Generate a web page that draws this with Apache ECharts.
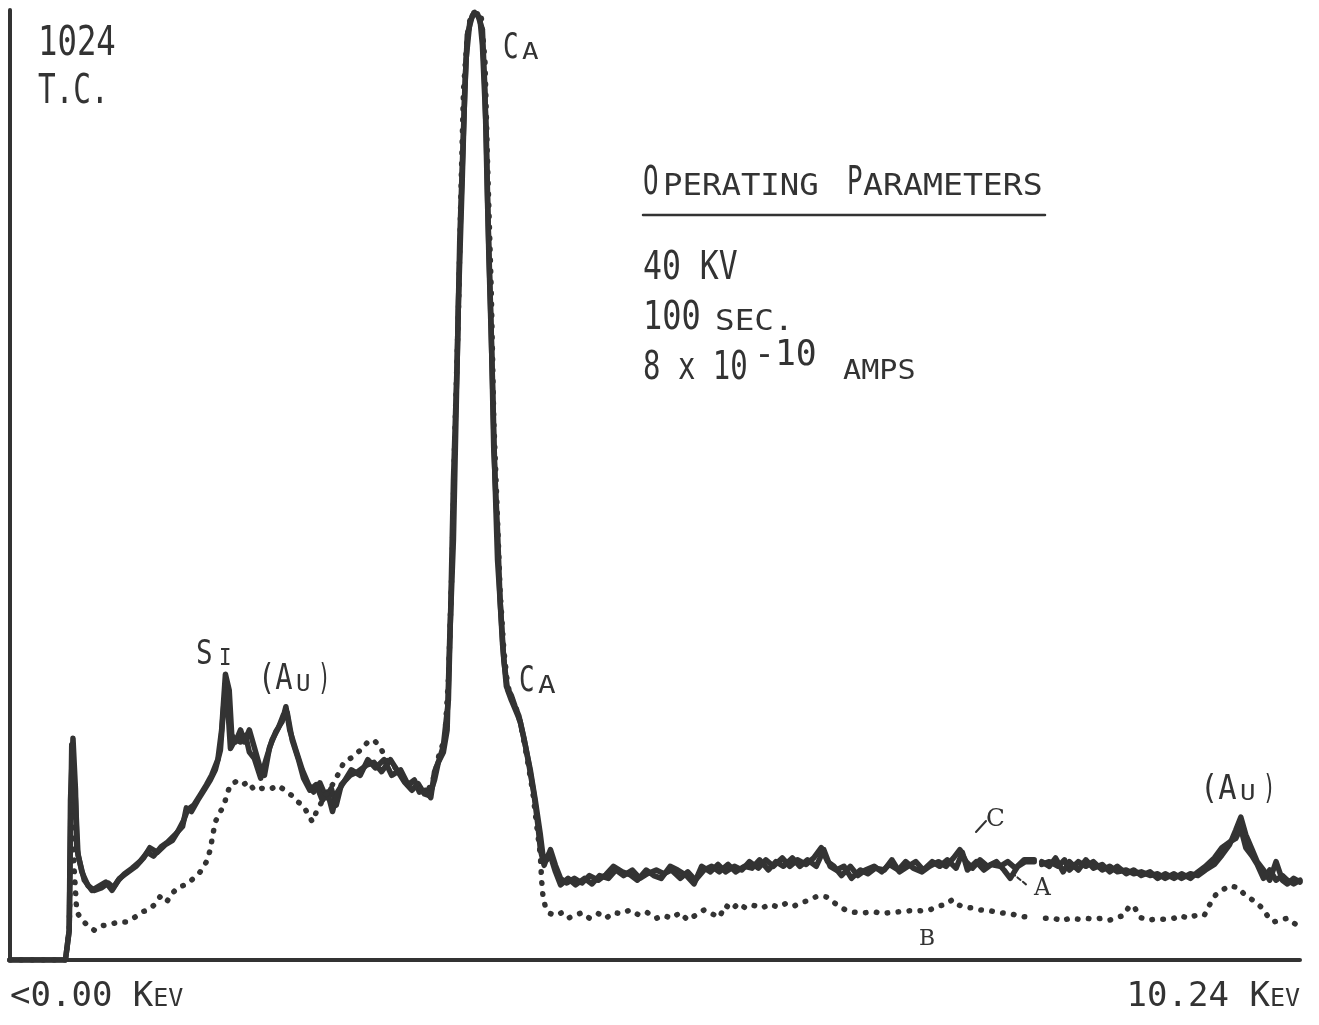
<!DOCTYPE html>
<html><head><meta charset="utf-8">
<script src="https://cdn.jsdelivr.net/npm/echarts@6/dist/echarts.min.js"></script>
<style>html,body{margin:0;padding:0;background:#fff}#c{width:1319px;height:1025px}</style>
</head><body><div id="c"></div>
<script>
// ---- data: energy (keV) vs. counts (full scale 1024 T.C.) ----
const energyRange = [0, 10.24];
const countRange = [0, 1024];
const tickLabels = ['<0.00 KeV', '10.24 KeV'];

// spectrum A (solid)
const spectrumA = [[0,0],[0.44,0],[0.47,32],[0.48,172],[0.50,239],[0.52,183],[0.53,121],[0.57,95],[0.62,80],[0.67,75],[0.73,78],[0.78,83],[0.82,78],[0.87,88],[0.94,95],[1.00,101],[1.06,110],[1.11,121],[1.17,116],[1.23,124],[1.29,129],[1.33,138],[1.38,151],[1.41,162],[1.46,167],[1.51,178],[1.56,189],[1.60,199],[1.65,216],[1.68,248],[1.71,308],[1.74,291],[1.76,243],[1.79,235],[1.83,248],[1.86,235],[1.90,248],[1.94,229],[1.98,210],[2.02,199],[2.06,229],[2.11,246],[2.16,257],[2.19,273],[2.22,248],[2.27,226],[2.32,205],[2.37,189],[2.41,181],[2.46,191],[2.51,175],[2.55,185],[2.59,167],[2.63,189],[2.70,199],[2.76,203],[2.83,210],[2.89,213],[2.95,203],[3.02,216],[3.08,203],[3.13,192],[3.19,183],[3.24,190],[3.29,179],[3.33,177],[3.37,194],[3.40,213],[3.44,224],[3.47,248],[3.49,345],[3.52,453],[3.54,582],[3.56,711],[3.59,841],[3.61,938],[3.63,997],[3.67,1018],[3.70,1020],[3.73,1015],[3.75,986],[3.78,895],[3.80,765],[3.83,625],[3.85,517],[3.87,431],[3.90,367],[3.92,323],[3.95,291],[3.98,280],[4.02,267],[4.05,257],[4.09,232],[4.13,205],[4.17,172],[4.21,135],[4.23,113],[4.26,108],[4.29,119],[4.33,102],[4.37,88],[4.42,83],[4.48,88],[4.54,83],[4.60,91],[4.67,86],[4.73,92],[4.79,101],[4.86,95],[4.92,92],[4.98,86],[5.05,97],[5.11,91],[5.17,88],[5.24,101],[5.30,97],[5.37,91],[5.43,82],[5.49,101],[5.56,95],[5.62,103],[5.68,95],[5.75,101],[5.81,97],[5.87,106],[5.94,99],[6.00,108],[6.06,101],[6.13,110],[6.19,101],[6.25,108],[6.32,103],[6.38,110],[6.44,121],[6.49,106],[6.54,101],[6.60,91],[6.67,101],[6.73,91],[6.79,97],[6.86,101],[6.92,95],[6.98,103],[7.05,97],[7.11,106],[7.17,99],[7.24,95],[7.30,101],[7.37,106],[7.43,101],[7.49,110],[7.54,119],[7.59,106],[7.64,99],[7.70,108],[7.76,101],[7.83,106],[7.89,97],[7.94,88],[8.00,101],[8.06,106],[8.13,106],[8.16,null],[8.19,103],[8.25,106],[8.32,101],[8.37,108],[8.41,97],[8.48,106],[8.54,101],[8.60,106],[8.67,97],[8.73,101],[8.79,95],[8.86,97],[8.92,93],[8.98,95],[9.05,91],[9.11,93],[9.17,88],[9.24,93],[9.30,88],[9.37,93],[9.43,91],[9.49,97],[9.56,103],[9.62,113],[9.68,124],[9.73,140],[9.77,154],[9.81,135],[9.86,119],[9.90,106],[9.95,97],[10.00,86],[10.05,106],[10.10,86],[10.14,82],[10.19,88],[10.24,84]];

// spectrum C (solid)
const spectrumC = [[0,0],[0.44,0],[0.47,32],[0.49,232],[0.52,172],[0.54,113],[0.59,86],[0.65,75],[0.71,80],[0.76,84],[0.81,75],[0.86,86],[0.91,93],[0.97,99],[1.03,106],[1.09,116],[1.14,112],[1.20,122],[1.25,127],[1.31,135],[1.37,144],[1.40,164],[1.44,160],[1.49,172],[1.54,183],[1.59,194],[1.63,205],[1.67,226],[1.70,280],[1.72,291],[1.75,228],[1.79,238],[1.83,235],[1.87,242],[1.90,224],[1.94,217],[1.99,196],[2.03,215],[2.08,237],[2.13,250],[2.17,264],[2.20,267],[2.24,237],[2.29,216],[2.33,196],[2.38,183],[2.43,189],[2.48,172],[2.52,181],[2.56,160],[2.60,181],[2.66,194],[2.71,205],[2.78,199],[2.84,216],[2.90,207],[2.97,216],[3.03,199],[3.10,205],[3.16,189],[3.21,194],[3.25,181],[3.30,183],[3.34,175],[3.37,203],[3.41,217],[3.44,231],[3.48,280],[3.50,388],[3.52,517],[3.55,647],[3.57,776],[3.60,895],[3.62,970],[3.65,1011],[3.68,1020],[3.71,1020],[3.75,1003],[3.77,938],[3.79,819],[3.82,679],[3.84,550],[3.87,463],[3.89,388],[3.91,340],[3.94,295],[3.98,285],[4.01,273],[4.04,263],[4.08,239],[4.12,210],[4.16,178],[4.19,146],[4.21,119],[4.24,102],[4.27,113],[4.30,108],[4.33,95],[4.37,81],[4.43,88],[4.49,81],[4.56,88],[4.62,82],[4.68,91],[4.75,88],[4.81,97],[4.87,91],[4.94,97],[5.00,88],[5.06,93],[5.13,97],[5.19,93],[5.25,97],[5.32,88],[5.38,95],[5.44,86],[5.51,97],[5.57,101],[5.63,95],[5.70,103],[5.76,95],[5.83,101],[5.89,99],[5.95,108],[6.02,97],[6.08,106],[6.14,101],[6.21,110],[6.27,101],[6.33,108],[6.40,101],[6.46,119],[6.51,101],[6.56,97],[6.62,101],[6.68,88],[6.75,97],[6.81,93],[6.87,99],[6.94,97],[7.00,108],[7.06,95],[7.13,101],[7.19,106],[7.25,97],[7.32,106],[7.38,101],[7.44,108],[7.51,99],[7.56,116],[7.60,97],[7.67,106],[7.73,97],[7.79,103],[7.86,101],[7.92,106],[7.98,99],[8.05,108],[8.13,108],[8.16,null],[8.19,106],[8.25,101],[8.30,110],[8.36,95],[8.41,106],[8.48,97],[8.54,108],[8.60,99],[8.67,103],[8.73,95],[8.79,101],[8.86,93],[8.92,97],[8.98,91],[9.05,95],[9.11,88],[9.17,93],[9.24,88],[9.30,93],[9.37,88],[9.43,95],[9.49,101],[9.56,110],[9.62,121],[9.68,127],[9.73,131],[9.77,142],[9.81,121],[9.86,112],[9.90,103],[9.95,88],[10.00,97],[10.05,86],[10.10,91],[10.14,86],[10.19,82],[10.24,86]];

// spectrum B (dotted)
const spectrumB = [[0,0],[0.44,0],[0.47,32],[0.49,172],[0.51,97],[0.53,52],[0.57,43],[0.62,37],[0.67,32],[0.73,37],[0.79,38],[0.86,41],[0.92,41],[0.98,45],[1.05,52],[1.10,54],[1.15,60],[1.19,68],[1.24,62],[1.29,72],[1.33,78],[1.39,81],[1.44,86],[1.51,95],[1.56,106],[1.59,119],[1.61,135],[1.63,149],[1.67,160],[1.70,167],[1.72,178],[1.75,189],[1.79,192],[1.84,188],[1.89,192],[1.94,183],[2.00,185],[2.06,184],[2.13,188],[2.18,183],[2.24,177],[2.29,170],[2.33,166],[2.37,156],[2.40,149],[2.43,159],[2.46,167],[2.51,178],[2.56,189],[2.60,199],[2.65,213],[2.71,218],[2.78,226],[2.84,235],[2.89,237],[2.94,229],[3.00,213],[3.06,207],[3.13,194],[3.19,189],[3.25,185],[3.32,183],[3.37,199],[3.41,224],[3.45,237],[3.48,302],[3.51,431],[3.53,561],[3.56,701],[3.58,830],[3.60,938],[3.63,997],[3.66,1020],[3.70,1022],[3.74,1018],[3.77,970],[3.79,862],[3.82,722],[3.84,582],[3.87,474],[3.89,399],[3.92,334],[3.95,296],[3.99,280],[4.03,267],[4.07,243],[4.11,213],[4.15,181],[4.18,146],[4.21,113],[4.22,86],[4.23,70],[4.25,57],[4.29,50],[4.33,48],[4.38,51],[4.43,45],[4.48,48],[4.54,51],[4.60,45],[4.67,50],[4.73,45],[4.79,51],[4.86,50],[4.92,54],[5.00,48],[5.06,51],[5.13,45],[5.19,48],[5.25,45],[5.32,51],[5.38,43],[5.44,48],[5.51,54],[5.57,50],[5.63,46],[5.68,59],[5.73,54],[5.78,61],[5.84,56],[5.90,59],[5.97,56],[6.03,60],[6.10,57],[6.16,61],[6.22,58],[6.29,62],[6.35,65],[6.41,69],[6.48,68],[6.54,62],[6.60,56],[6.67,52],[6.73,51],[6.79,51],[6.86,52],[6.92,50],[6.98,51],[7.06,52],[7.14,53],[7.22,53],[7.30,54],[7.37,58],[7.43,60],[7.48,65],[7.52,60],[7.57,57],[7.64,56],[7.70,54],[7.78,53],[7.86,51],[7.94,50],[8.02,47],[8.11,46],[8.16,null],[8.22,45],[8.29,45],[8.35,42],[8.41,45],[8.48,44],[8.54,45],[8.60,44],[8.67,45],[8.73,43],[8.79,46],[8.84,48],[8.89,59],[8.93,56],[8.97,46],[9.03,43],[9.10,44],[9.17,44],[9.24,45],[9.29,48],[9.35,45],[9.41,48],[9.48,48],[9.52,59],[9.57,70],[9.62,75],[9.68,80],[9.75,78],[9.79,72],[9.84,67],[9.89,62],[9.94,56],[9.98,48],[10.03,41],[10.08,43],[10.14,45],[10.21,38]];

const INK = '#333333';
const MONO = 'DejaVu Sans Mono';
const SERIF = 'DejaVu Serif';

// text piece: left x, cap top, cap height, desired width (null = natural)
function T(text, x, capTop, capH, width, family) {
  const fs = capH / 0.729;
  const natural = ((text.length - 1) * 0.602 + 0.58) * fs;
  const sx = width ? width / natural : 1;
  return {
    type: 'text', x: x, y: capTop - 0.117 * fs, scaleX: sx, scaleY: 1, silent: true, z: 10,
    style: { text: text, font: fs.toFixed(1) + 'px "' + (family || MONO) + '"', fill: INK,
      textAlign: 'left', textVerticalAlign: 'top', verticalAlign: 'top' }
  };
}
function L(x1, y1, x2, y2, w, dash) {
  return { type: 'line', silent: true, z: 10, shape: { x1, y1, x2, y2 },
    style: { stroke: INK, lineWidth: w, lineDash: dash || null, lineCap: 'round' } };
}

const chart = echarts.init(document.getElementById('c'), null, { renderer: 'canvas' });

const solidLine = (name, data) => ({
  type: 'line', name, data, showSymbol: false, symbol: 'none', connectNulls: false,
  lineStyle: { color: INK, width: 5.5, join: 'round', cap: 'round' }, z: 3
});

chart.setOption({
  animation: false,
  backgroundColor: '#ffffff',
  grid: { left: 10, right: 19, top: 10, bottom: 65 },
  xAxis: {
    type: 'value', min: energyRange[0], max: energyRange[1], interval: energyRange[1] - energyRange[0],
    axisLine: { show: true, onZero: false, lineStyle: { color: INK, width: 4 } },
    axisTick: { show: false }, splitLine: { show: false },
    axisLabel: {
      show: true, margin: 20, showMinLabel: true, showMaxLabel: true,
      alignMinLabel: 'left', alignMaxLabel: 'right',
      formatter: v => {
        const s = Math.abs(v - energyRange[0]) < 1e-9 ? tickLabels[0] : tickLabels[1];
        return '{b|' + s.slice(0, -2) + '}{s|' + s.slice(-2).toUpperCase() + '}';
      },
      rich: {
        b: { fontFamily: MONO, fontSize: 34, color: INK, verticalAlign: 'bottom' },
        s: { fontFamily: MONO, fontSize: 25, color: INK, verticalAlign: 'bottom', padding: [0, 0, 2, 0] }
      }
    }
  },
  yAxis: {
    type: 'value', min: countRange[0], max: countRange[1],
    axisLine: { show: true, lineStyle: { color: INK, width: 4 } },
    axisTick: { show: false }, axisLabel: { show: false }, splitLine: { show: false }
  },
  series: [
    solidLine('A', spectrumA),
    solidLine('C', spectrumC),
    {
      type: 'line', name: 'B', data: spectrumB, showSymbol: false, symbol: 'none', connectNulls: false,
      lineStyle: { color: INK, width: 5.5, type: [0.5, 10.5], cap: 'round', join: 'round' }, z: 4
    }
  ],
  graphic: { elements: [
    T('1024', 38, 29, 30, 77),
    T('T.C.', 38, 77, 30, 70),
    // peak labels
    T('C', 503, 35, 26, 15), T('A', 522, 44, 17, 16),
    T('S', 196, 642, 25, 16), T('I', 219, 650, 17, 12),
    T('(A', 258, 666, 26, 34), T('U', 296, 676, 17, 14), T(')', 318, 666, 26, 12),
    T('C', 519, 668, 26, 15), T('A', 538, 677, 18, 17),
    T('(A', 1200, 777, 25, 36), T('U', 1240, 786, 16, 15), T(')', 1263, 777, 25, 12),
    // operating parameters box
    T('O', 643, 170, 28, 15), T('PERATING', 663, 176, 22, 155),
    T('P', 847, 170, 28, 15), T('ARAMETERS', 863, 176, 22, 179),
    L(643, 215, 1045, 215, 2.5),
    T('40 KV', 643, 253, 29, 94),
    T('100', 643, 303, 29, 57), T('SEC.', 715, 311, 21, 78),
    T('8 x 10', 643, 353, 29, 104), T('-10', 754, 342, 26, 62), T('AMPS', 843, 362, 20, 72),
    // curve identifiers
    T('C', 986, 810, 18, null, SERIF), L(976, 832, 986, 821, 2),
    T('A', 1034, 880, 17, null, SERIF), L(1012, 873, 1028, 886, 2, [4, 3]),
    T('B', 919, 931, 16, null, SERIF)
  ] }
});
</script>
</body></html>
